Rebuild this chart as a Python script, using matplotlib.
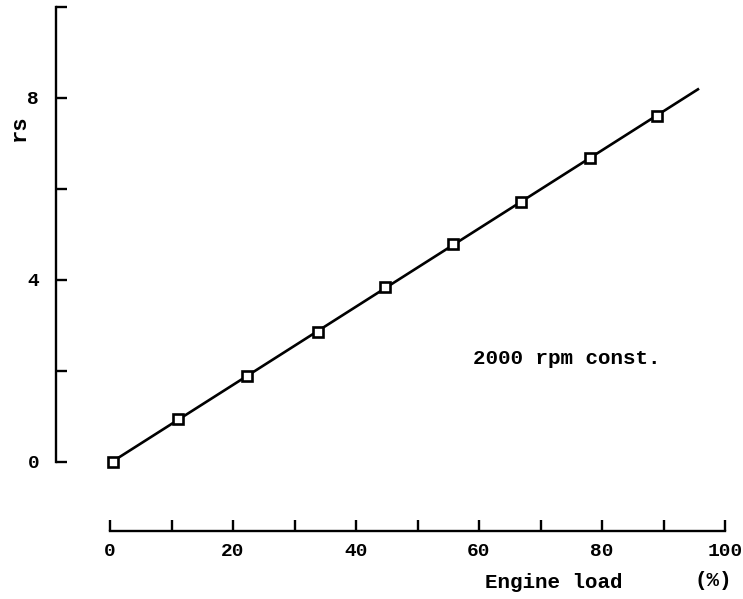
"""rs against engine load at 2000 rpm, redrawn from a scanned chart."""
import numpy as np
from matplotlib import pyplot as plt

# values
engine_load = [0.5, 11.1, 22.3, 33.8, 44.7, 55.8, 66.8, 78.0, 88.9]
rs_values = [0.0, 0.95, 1.89, 2.85, 3.85, 4.79, 5.71, 6.68, 7.6]
fit_range = [0.5, 95.6]

x_ticks = list(range(0, 101, 10))
x_tick_labels = ['0', '', '20', '', '40', '', '60', '', '80', '', '100']
y_ticks = [0, 2, 4, 6, 8, 10]
y_tick_labels = ['0', '', '4', '', '8', '']

FONT = 'Liberation Mono'

fig = plt.figure(figsize=(7.43, 5.99), dpi=100)
ax = fig.add_axes([110 / 743, 137 / 599, 615 / 743, 455 / 599])

# straight fitted line through the measured points
slope, intercept = np.polyfit(engine_load, rs_values, 1)
line_x = np.array(fit_range)
ax.plot(line_x, slope * line_x + intercept, color='black', lw=1.9,
        clip_on=False)
ax.plot(engine_load, rs_values, ls='none', marker='s', ms=7,
        mfc='white', mec='black', mew=1.9, clip_on=False)

ax.set_xlim(0, 100)
ax.set_ylim(0, 10)

for side in ('top', 'right'):
    ax.spines[side].set_visible(False)
ax.spines['left'].set_position(('outward', 39))
ax.spines['bottom'].set_position(('outward', 50))
ax.spines['left'].set_bounds(0, 10)
ax.spines['bottom'].set_bounds(0, 100)
for side in ('left', 'bottom'):
    ax.spines[side].set_linewidth(1.7)

ax.set_xticks(x_ticks)
ax.set_xticklabels(x_tick_labels)
ax.set_yticks(y_ticks)
ax.set_yticklabels(y_tick_labels)
ax.tick_params(axis='both', direction='in', length=8, width=1.7,
               labelsize=14)
ax.tick_params(axis='y', pad=12)
ax.tick_params(axis='x', pad=8)
for lab in ax.get_xticklabels() + ax.get_yticklabels():
    lab.set_fontfamily(FONT)
    lab.set_fontweight('bold')

ax.text(59.0, 2.28, '2000 rpm const.', fontsize=15, fontweight='bold',
        family=FONT, ha='left', va='center')

fig.text(485 / 743, 1 - 582 / 599, 'Engine load', fontsize=15,
         fontweight='bold', family=FONT, ha='left', va='center')
fig.text(713 / 743, 1 - 580 / 599, '(%)', fontsize=15, fontweight='bold',
         family=FONT, ha='center', va='center')
fig.text(19 / 743, 1 - 128 / 599, 'rs', fontsize=16, fontweight='bold',
         family=FONT, ha='center', va='center', rotation=90)

fig.savefig('out.png', dpi=100)
